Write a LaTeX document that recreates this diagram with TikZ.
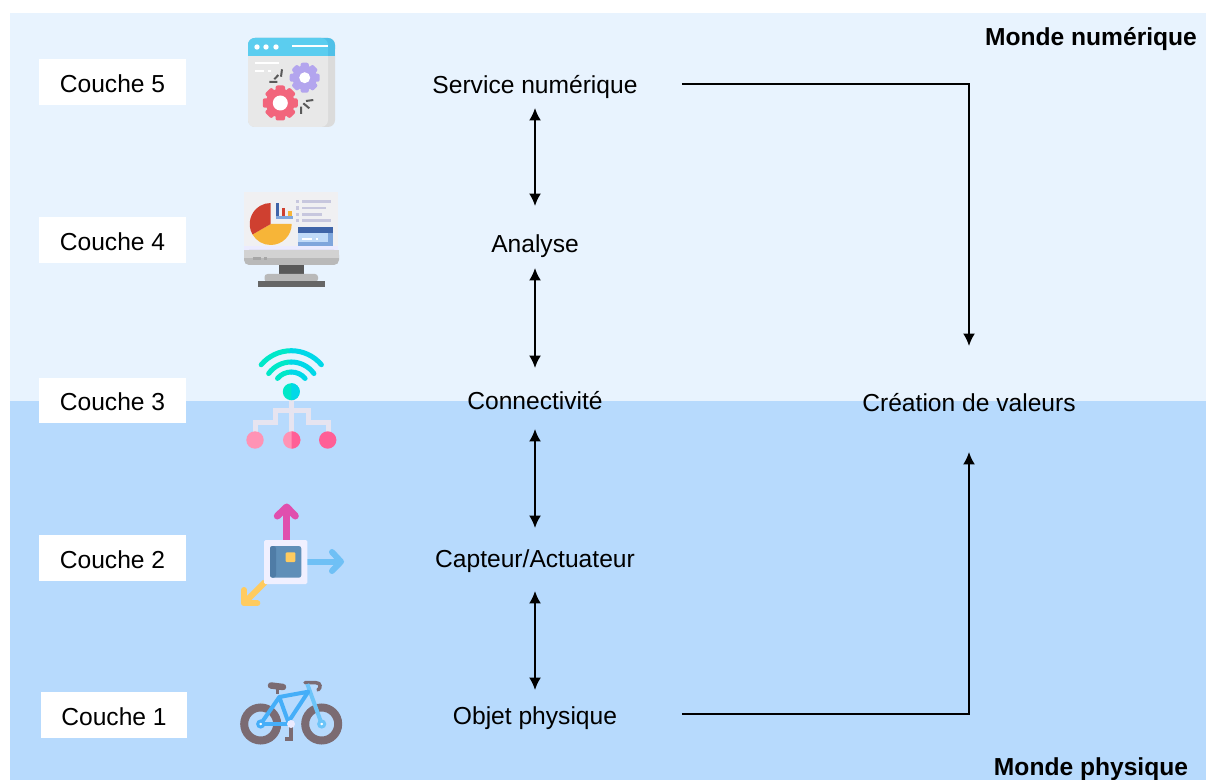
\documentclass[tikz,border=0pt]{standalone}
\usepackage{fontspec}
\setmainfont{Liberation Sans}
\usetikzlibrary{arrows.meta}

\definecolor{numerique}{HTML}{E8F3FE}
\definecolor{physique}{HTML}{B7DAFD}
\definecolor{pneu}{HTML}{7B6B72}
\definecolor{cadre}{HTML}{45AEF8}
\definecolor{fourche}{HTML}{6CC4F8}
\definecolor{rose}{HTML}{FF5F96}
\definecolor{rosepale}{HTML}{FF93B5}
\definecolor{lien}{HTML}{E6E4F0}
\definecolor{ecran}{HTML}{F0F0F2}
\definecolor{titre}{HTML}{5BCDEF}
\definecolor{titrefonce}{HTML}{4FC0E8}
\definecolor{violetpale}{HTML}{B3A5EE}
\definecolor{rouge}{HTML}{F2657C}
\definecolor{secteur}{HTML}{CF4030}
\definecolor{part}{HTML}{F7B538}
\definecolor{barre}{HTML}{3F64A8}
\definecolor{carte}{HTML}{7FA6DC}
\definecolor{cartepale}{HTML}{C0DAF8}
\definecolor{turquoise}{HTML}{00E8C8}
\definecolor{cyanvif}{HTML}{00D8E8}
\definecolor{fuchsia}{HTML}{E04FAE}
\definecolor{ciel}{HTML}{6FC0F5}
\definecolor{jaune}{HTML}{FFCB5F}
\definecolor{puce}{HTML}{5F8FB8}
\definecolor{pucefonce}{HTML}{4F7CA6}

\tikzset{
    couche/.style={fill=white, minimum width=2.94cm, minimum height=0.92cm, inner sep=0pt, font=\fontsize{14}{16}\selectfont, text height=0.44cm, text depth=0.02cm},
    etape/.style={inner sep=0pt, font=\fontsize{14}{16}\selectfont, text height=0.42cm, text depth=0.1cm},
    monde/.style={inner sep=0pt, font=\fontsize{14}{16}\selectfont\bfseries},
    liaison/.style={line width=0.036cm, -{Latex[length=0.25cm,width=0.24cm]}},
    double/.style={line width=0.036cm, {Latex[length=0.25cm,width=0.24cm]}-{Latex[length=0.25cm,width=0.24cm]}}
}

% roue dentee: x, y, rayon, couleur, trou
\newcommand{\engrenage}[5]{
    \begin{scope}[shift={(#1,#2)}]
        \fill[#4] (0,0) circle ({0.82*#3});
        \foreach \a in {0,45,...,315}
            \fill[#4, rotate=\a, rounded corners=0.04cm] ({-0.27*#3},0) rectangle ({0.27*#3},{#3});
        \fill[white] (0,0) circle (#5);
    \end{scope}
}

\begin{document}
\begin{tikzpicture}[x=0.02cm, y=-0.02cm]

    \useasboundingbox (0,0) rectangle (1206,780);

    % Fonds
    \fill[numerique] (10,13) rectangle (1206,401);
    \fill[physique] (10,401) rectangle (1206,780);

    % Mondes
    \node[monde] (numerique) at (1091,39) {Monde numérique};
    \node[monde] (physique) at (1091,769) {Monde physique};

    % Couches
    \node[couche] (couche5) at (112.5,82) {Couche 5};
    \node[couche] (couche4) at (112.5,240) {Couche 4};
    \node[couche] (couche3) at (112.5,400.5) {Couche 3};
    \node[couche] (couche2) at (112.5,558) {Couche 2};
    \node[couche] (couche1) at (114,715) {Couche 1};

    % Etapes
    \node[etape] (service) at (535,86) {Service numérique};
    \node[etape] (analyse) at (535,245) {Analyse};
    \node[etape] (connect) at (535,402) {Connectivité};
    \node[etape] (capteur) at (535,559) {Capteur/Actuateur};
    \node[etape] (objet) at (535,716) {Objet physique};
    \node[etape] (valeurs) at (969,404) {Création de valeurs};

    % Fleches doubles
    \draw[double, shorten <=0.44cm, shorten >=0.78cm] (service.center) -- (analyse.center);
    \draw[double, shorten <=0.46cm, shorten >=0.68cm] (analyse.center) -- (connect.center);
    \draw[double, shorten <=0.54cm, shorten >=0.62cm] (connect.center) -- (capteur.center);
    \draw[double, shorten <=0.64cm, shorten >=0.52cm] (capteur.center) -- (objet.center);

    % Vers la creation de valeurs
    \draw[liaison, shorten <=2.94cm, shorten >=1.16cm] ([yshift=0.04cm]service.center) -| (valeurs.center);
    \draw[liaison, shorten <=2.94cm, shorten >=0.96cm] ([yshift=0.04cm]objet.center) -| (valeurs.center);

    % Icone 5: fenetre
    \fill[gray!28, rounded corners=0.14cm] (248,38) rectangle (335,127);
    \fill[black!9, rounded corners=0.14cm] (248,50) rectangle (328,127);
    \fill[titrefonce, rounded corners=0.14cm] (248,38) rectangle (335,56);
    \fill[titrefonce] (248,48) rectangle (335,56);
    \fill[titre, rounded corners=0.14cm] (248,38) rectangle (328,56);
    \fill[titre] (248,48) rectangle (328,56);
    \foreach \x in {257,266,276}
        \fill[white] (\x,47) circle (2.7);
    \draw[white, line width=0.04cm] (292,46.5) -- (328,46.5);
    \draw[white, line width=0.04cm] (255,63.5) -- (279,63.5);
    \draw[white, line width=0.04cm] (255,71.5) -- (264,71.5) (268,71.5) -- (271,71.5);
    \engrenage{304.7}{77.7}{15}{violetpale}{5.5}
    \engrenage{280.3}{103}{17.5}{rouge}{7.5}
    \draw[black!65, line width=0.04cm] (282,69.3) -- (281,76.7) (278.3,75) -- (274.3,79.3) (269.3,82) -- (277.3,82);
    \draw[black!65, line width=0.04cm] (313.3,100) -- (306,101) (309.3,108.3) -- (303.3,103.3) (301,106.7) -- (301,114);

    % Icone 4: ecran
    \fill[ecran] (244,192.5) rectangle (338,246);
    \fill[blue!8] (244,246) rectangle (338,252);
    \fill[gray!55, rounded corners=0.1cm] (244,250) rectangle (339,265);
    \fill[gray!35] (244,250) rectangle (339,258);
    \fill[gray!70] (253,257) rectangle (261,260);
    \fill[gray!70] (264,257) rectangle (267,260);
    \fill[gray!70!black] (278.7,265) rectangle (304.3,275);
    \fill[gray!55, rounded corners=0.06cm] (264.5,274) rectangle (318,282);
    \fill[black!60] (258,281) rectangle (325,287);
    \fill[part] (270.7,224) -- +(0:21) arc (0:150:21) -- cycle;
    \fill[secteur] (270.7,224) -- +(150:21) arc (150:270:21) -- cycle;
    \fill[barre] (276,203.3) rectangle (278.7,219);
    \fill[carte] (276,216.5) rectangle (292.7,219);
    \fill[secteur] (281.7,208) rectangle (285,216.5);
    \fill[part] (288.3,211) rectangle (291.7,216.5);
    \foreach \y/\x in {201.7/331, 208/326.3, 214.3/321.7, 220.3/331} {
        \fill[blue!25!gray!35] (296,\y-1.7) rectangle (299.3,\y+1.7);
        \fill[blue!25!gray!35] (302.3,\y-1.4) rectangle (\x,\y+1.4);
    }
    \fill[carte] (297.7,233) rectangle (332.7,245.7);
    \fill[barre] (297.7,227.3) rectangle (332.7,233.3);
    \fill[cartepale] (298,233.3) rectangle (327.7,241.7);
    \draw[white, line width=0.04cm] (302,239.3) -- (312,239.3) (316,239.3) -- (317.5,239.3);

    % Icone 3: wifi
    \foreach \r/\a in {39.3/40, 28/36, 18/40} {
        \draw[turquoise, line width=0.1cm, line cap=round] (291.3,390) ++({180+\a}:\r) arc ({180+\a}:270:\r);
        \draw[cyanvif, line width=0.1cm, line cap=round] (291.3,390) ++({-\a}:\r) arc ({-\a}:-90:\r);
    }
    \draw[lien, line width=0.1cm] (291.5,395) -- (291.5,436);
    \draw[lien, line width=0.1cm] (291.5,410) -- (275,410) -- (275,422.3) -- (255,422.3) -- (255,435);
    \draw[lien, line width=0.1cm] (291.5,410) -- (308.3,410) -- (308.3,422.3) -- (328,422.3) -- (328,435);
    \fill[turquoise] (291.3,391.7) circle (8.5);
    \fill[cyanvif] (291.3,383.2) arc (-90:90:8.5) -- cycle;
    \fill[rosepale] (255,440) circle (8.7);
    \fill[rosepale] (291.7,440) circle (8.7);
    \fill[rose] (291.7,431.3) arc (-90:90:8.7) -- cycle;
    \fill[rose] (327.7,440) circle (8.7);

    % Icone 2: capteur
    \draw[fuchsia, line width=0.14cm] (286.7,540) -- (286.7,510);
    \draw[fuchsia, line width=0.14cm, line cap=round, line join=round] (277.3,516) -- (286.7,507) -- (295.3,516);
    \draw[ciel, line width=0.12cm] (307,561.7) -- (339,561.7);
    \draw[ciel, line width=0.12cm, line cap=round, line join=round] (332,552) -- (341,561.7) -- (332,571);
    \draw[jaune, line width=0.12cm] (265,582) -- (247,600);
    \draw[jaune, line width=0.12cm, line cap=round, line join=round] (244,590) -- (244,603.3) -- (257.3,603.3);
    \fill[blue!6, rounded corners=0.03cm] (264,540) rectangle (307.3,584);
    \fill[puce, rounded corners=0.05cm] (270,546) rectangle (301.3,577.7);
    \fill[pucefonce, rounded corners=0.05cm] (270,546) rectangle (276,577.7);
    \fill[jaune, rounded corners=0.02cm] (285.7,552.3) rectangle (295.3,562);

    % Icone 1: velo
    \draw[pneu, line width=0.16cm] (260.7,724) circle (16.5);
    \draw[pneu, line width=0.16cm] (321.7,724) circle (16.5);
    \draw[pneu, line width=0.08cm] (290.7,725) -- (290.7,738) (285,738.5) -- (293,738.5);
    \draw[pneu, line width=0.13cm, line cap=round] (271,685.5) -- (283,687);
    \draw[pneu, line width=0.07cm] (277.3,689) -- (277.3,694);
    \draw[pneu, line width=0.07cm, line cap=round] (305,682.7) -- (316,682.7) .. controls (321,682.7) and (321,688) .. (318,690);
    \draw[fourche, line width=0.08cm] (307.3,684) -- (321.7,724);
    \draw[cadre, line width=0.08cm, line join=round] (260.7,724) -- (279.3,697) -- (308.3,691.7) -- (288.3,722) -- (279.3,697);
    \draw[cadre, line width=0.08cm] (260.7,724) -- (290.7,724);
    \fill[white, draw=cadre, line width=0.06cm] (260.7,724) circle (3);
    \fill[white, draw=fourche, line width=0.06cm] (321.7,724) circle (3);
    \fill[blue!8] (291,724) circle (4);

\end{tikzpicture}
\end{document}
